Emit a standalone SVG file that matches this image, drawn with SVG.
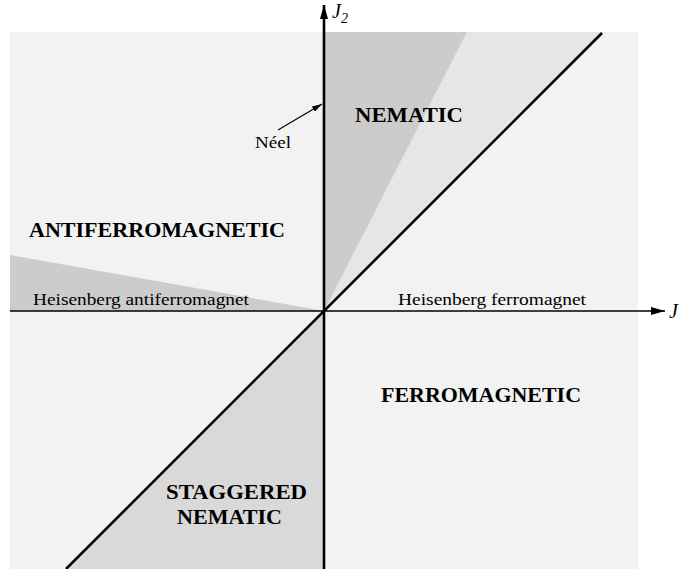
<svg xmlns="http://www.w3.org/2000/svg" width="681" height="569" viewBox="0 0 681 569">
<style>
text{font-family:'Liberation Serif','Times New Roman',Times,serif;fill:#000}
.phase{font-weight:bold;font-size:21px}
.lbl{font-size:17px}
.ax{font-style:italic}
</style>
<defs>
<marker id="ah" viewBox="0 0 14 8" refX="14" refY="4" markerWidth="14" markerHeight="8" markerUnits="userSpaceOnUse" orient="auto"><path d="M0,0 L14,4 L0,8 z" fill="#000"/></marker>
<marker id="ahs" viewBox="0 0 10 6" refX="10" refY="3" markerWidth="10" markerHeight="6" markerUnits="userSpaceOnUse" orient="auto"><path d="M0,0 L10,3 L0,6 z" fill="#000"/></marker>
</defs>
<rect width="681" height="569" fill="#fff"/>
<g id="regions">
<rect id="bg" x="10" y="32" width="628" height="537" fill="#f2f2f2"/>
<polygon id="nematic-light" points="467,32 603,32 324,311" fill="#e6e6e6"/>
<polygon id="nematic-dark" points="324,32 467,32 324,311" fill="#cccccc"/>
<polygon id="afm-wedge" points="10,255 324,311 10,311" fill="#cccccc"/>
<polygon id="staggered" points="324,311 324,569 66,569" fill="#d9d9d9"/>
</g>
<g id="connectors" stroke="#000" fill="none">
<line x1="10" y1="311" x2="665" y2="311" stroke-width="1.3" marker-end="url(#ah)"/>
<line x1="324" y1="569" x2="324" y2="5" stroke-width="2.6" marker-end="url(#ah)"/>
<line x1="66" y1="569" x2="602" y2="33" stroke-width="2.6"/>
<line x1="278" y1="130" x2="322" y2="104" stroke-width="1.2" marker-end="url(#ahs)"/>
</g>
<g id="labels">
<text class="ax" x="332" y="18" font-size="20">J<tspan font-size="14" dy="5">2</tspan></text>
<text class="ax" x="669" y="318" font-size="20">J</text>
<text id="nematic" class="phase" x="355" y="122" textLength="108" lengthAdjust="spacingAndGlyphs">NEMATIC</text>
<text id="afm" class="phase" x="29" y="237" textLength="256" lengthAdjust="spacingAndGlyphs">ANTIFERROMAGNETIC</text>
<text id="fm" class="phase" x="381" y="402" textLength="200" lengthAdjust="spacingAndGlyphs">FERROMAGNETIC</text>
<text id="stag1" class="phase" x="166" y="499" textLength="141" lengthAdjust="spacingAndGlyphs">STAGGERED</text>
<text id="stag2" class="phase" x="177" y="524" textLength="105" lengthAdjust="spacingAndGlyphs">NEMATIC</text>
<text class="lbl" x="33" y="305" textLength="216" lengthAdjust="spacingAndGlyphs">Heisenberg antiferromagnet</text>
<text class="lbl" x="398" y="305" textLength="188" lengthAdjust="spacingAndGlyphs">Heisenberg ferromagnet</text>
<text class="lbl" x="255" y="148" font-size="17" textLength="36" lengthAdjust="spacingAndGlyphs">Néel</text>
</g>
</svg>
